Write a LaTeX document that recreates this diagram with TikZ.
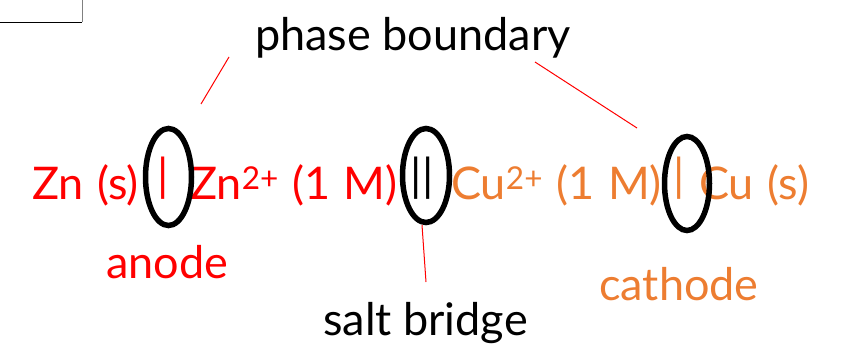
\documentclass[tikz,border=0pt]{standalone}
\usepackage{fontspec}
\setmainfont{Lato}
\usetikzlibrary{shapes.geometric}
\definecolor{cred}{RGB}{255,0,0}
\definecolor{corange}{RGB}{237,125,49}
\newcommand\cellfont{\fontsize{45}{54}\selectfont\spaceskip 0.3em\relax}
\tikzset{
  txt/.style={inner sep=0pt, font=\fontsize{45}{54}\selectfont},
  cell/.style={inner sep=0pt, font=\cellfont},
  ring/.style={draw=black, line width=5.5pt, ellipse, inner sep=0pt},
  pointer/.style={draw=cred, line width=1pt},
}
\begin{document}
\begin{tikzpicture}[x=1pt,y=-1pt]
\useasboundingbox (0,0) rectangle (841,348);
% corner frame
\draw[black, line width=0.8pt] (0,22) -- (82,22);
\draw[gray, line width=1pt] (82,22) -- (82,0);
% main cell notation
\node[cell, text=cred, anchor=base east] (zns) at (139,199) {Zn (s)};
\node[cell, text=cred, anchor=center] (bar1) at (163,178) {|};
\node[cell, text=cred, anchor=base west] (znion) at (190,199) {Zn\textsuperscript{2+} (1 M)};
\node[cell, text=black, anchor=center] (bar2) at (422,178) {||};
\node[cell, text=corange, anchor=base west] (cuion) at (451,199) {Cu\textsuperscript{2+} (1 M)};
\node[cell, text=corange, anchor=center] (bar3) at (679,178) {|};
\node[cell, text=corange, anchor=base west] (cus) at (699,199) {Cu (s)};
% ellipses
\node[ring, minimum width=46pt, minimum height=97pt] (e1) at (168.5,177) {};
\node[ring, minimum width=47pt, minimum height=94pt] (e2) at (426,175.5) {};
\node[ring, minimum width=45pt, minimum height=94pt] (e3) at (687,183.5) {};
% labels
\node[txt, text=black, anchor=base] (pb) at (413,50) {phase boundary};
\node[txt, text=cred, anchor=base] (anode) at (167,278) {anode};
\node[txt, text=black, anchor=base] (salt) at (425.5,335) {salt bridge};
\node[txt, text=corange, anchor=base] (cath) at (679,300) {cathode};
% pointer lines
\coordinate (p1a) at (229,57);
\coordinate (p1b) at (201,104);
\coordinate (p2a) at (535,62);
\coordinate (p2b) at (637,128);
\coordinate (p3a) at (422,225);
\coordinate (p3b) at (426,282);
\draw[pointer] (p1a) -- (p1b);
\draw[pointer] (p2a) -- (p2b);
\draw[pointer] (p3a) -- (p3b);
\end{tikzpicture}
\end{document}
